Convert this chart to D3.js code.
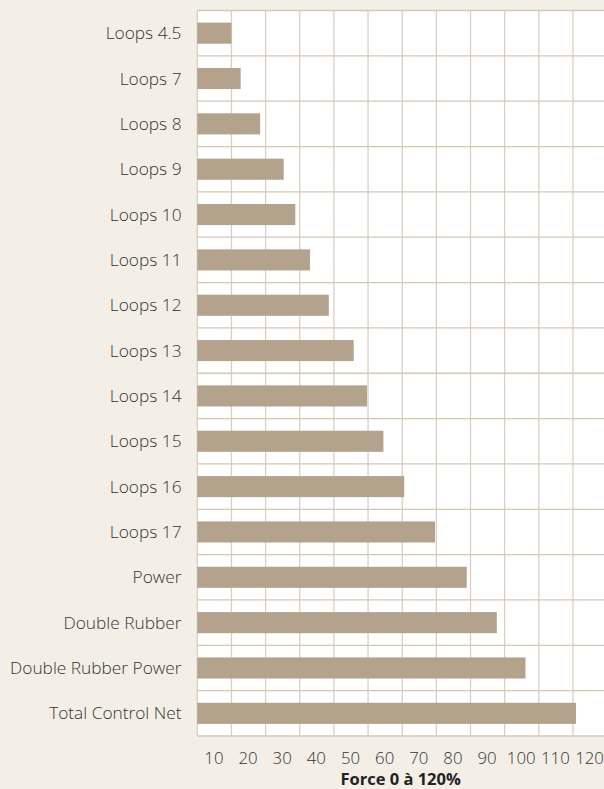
<!DOCTYPE html>
<html>
<head>
<meta charset="utf-8">
<script src="https://cdn.jsdelivr.net/npm/d3@7"></script>
<style>
  body { margin: 0; background: #f3efe7; }
  svg { display: block; }
  .label { font-family: "Open Sans", sans-serif; font-size: 17.3px; font-weight: 300; fill: #333333; }
  .tick text { font-family: "Open Sans", sans-serif; font-size: 16.8px; font-weight: 300; fill: #333333; }
  .title { font-family: "Open Sans", sans-serif; font-size: 16.5px; font-weight: bold; fill: #222222; }
</style>
</head>
<body>
<div class="chart"></div>
<script>
// rubber names, top to bottom
var names = ["Loops 4.5", "Loops 7", "Loops 8", "Loops 9", "Loops 10", "Loops 11",
  "Loops 12", "Loops 13", "Loops 14", "Loops 15", "Loops 16", "Loops 17",
  "Power", "Double Rubber", "Double Rubber Power", "Total Control Net"];
// force in %
var force = [10, 12.7, 18.4, 25.3, 28.7, 33, 38.5, 45.8, 49.7, 54.5, 60.6, 69.6,
  78.9, 87.7, 96.1, 110.9];
var tickValues = [10, 20, 30, 40, 50, 60, 70, 80, 90, 100, 110, 120];

const width = 604, height = 789;
const step = 34.15;
const plot = {left: 197.3, top: 10.5, right: 197.3 + 12 * step, bottom: 736};

var svg = d3.select(".chart").append("svg")
    .attr("width", width)
    .attr("height", height);

const xScale = d3.scaleLinear()
    .domain([0, 120])
    .range([plot.left, plot.right]);

const yScale = d3.scaleBand()
    .domain(names)
    .range([plot.top, plot.bottom])
    .padding(0);

// white plot area
svg.append("rect")
    .attr("x", plot.left)
    .attr("y", plot.top)
    .attr("width", plot.right - plot.left)
    .attr("height", plot.bottom - plot.top)
    .attr("fill", "#ffffff");

// vertical grid
svg.append("g")
    .selectAll("line")
    .data(d3.range(0, 121, 10))
    .enter().append("line")
    .attr("x1", d => xScale(d))
    .attr("x2", d => xScale(d))
    .attr("y1", plot.top)
    .attr("y2", plot.bottom)
    .attr("stroke", "#dacfc2")
    .attr("stroke-width", 1.3);

// horizontal grid (row borders)
var rowEdges = names.map(d => yScale(d)).concat([plot.bottom]);
svg.append("g")
    .selectAll("line")
    .data(rowEdges)
    .enter().append("line")
    .attr("x1", plot.left)
    .attr("x2", plot.right)
    .attr("y1", d => d)
    .attr("y2", d => d)
    .attr("stroke", "#d3c7b8")
    .attr("stroke-width", 1.3);

const barH = yScale.bandwidth() * 0.465;

svg.selectAll(".bar")
    .data(names)
    .enter().append("rect")
    .attr("class", "bar")
    .attr("x", xScale(0))
    .attr("y", d => yScale(d) + (yScale.bandwidth() - barH) / 2)
    .attr("width", (d, i) => xScale(force[i]) - xScale(0))
    .attr("height", barH)
    .attr("fill", "#b3a28c");

// category labels
svg.selectAll(".label")
    .data(names)
    .enter().append("text")
    .attr("class", "label")
    .attr("x", 181.5)
    .attr("y", d => yScale(d) + yScale.bandwidth() / 2)
    .attr("dy", "0.35em")
    .attr("text-anchor", "end")
    .text(d => d);

// x axis: labels sit in the middle of each 10 step
const xAxis = d3.axisBottom()
    .scale(d3.scaleLinear().domain([0, 120]).range([plot.left - 0.5 * step, plot.right - 0.5 * step]))
    .tickValues(tickValues)
    .tickSize(0)
    .tickPadding(0);

svg.append("g")
    .attr("class", "xAxis")
    .attr("transform", "translate(-1," + (plot.bottom + 16) + ")")
    .call(xAxis)
    .call(g => g.select(".domain").remove());

svg.append("text")
    .attr("class", "title")
    .attr("x", (plot.left + width) / 2)
    .attr("y", 785)
    .attr("text-anchor", "middle")
    .text("Force 0 à 120%");
</script>
</body>
</html>
